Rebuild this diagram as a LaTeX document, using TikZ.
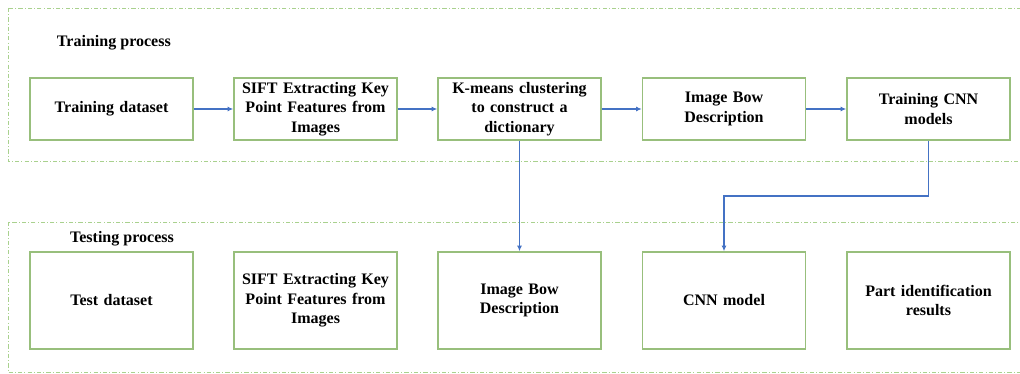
\documentclass[tikz,border=0pt]{standalone}
\usepackage{fontspec}
\setmainfont{Liberation Serif}
\usetikzlibrary{arrows.meta}
\definecolor{Leaf}{HTML}{98BF7C}
\definecolor{Frame}{HTML}{A9D18E}
\definecolor{Arrow}{HTML}{4472C4}

\begin{document}
\begin{tikzpicture}[x=0.025cm,y=-0.025cm,font=\bfseries\fontsize{11.4}{14}\selectfont,>={Latex[length=4pt,width=3.5pt]},box/.style={draw=Leaf,line width=1pt,align=center,text width=3.8cm,minimum width=4.075cm,inner sep=0pt},train/.style={box,minimum height=1.55cm},test/.style={box,minimum height=2.425cm},flow/.style={->,line width=0.8pt,draw=Arrow},frame/.style={draw=Frame,line width=0.6pt,dash pattern=on 3pt off 1.5pt on 0.7pt off 1.5pt}]
 \clip (0,0) rectangle (1020,374);
 % dashed process frames
 \draw[frame] (8,8) rectangle (1040,161);
 \draw[frame] (8,222) rectangle (1040,372);
 \node[anchor=west] (trainlabel) at (52,43) {Training process};
 \node (testlabel) at (122,239) {Testing process};
 % training row
 \node[train] (tdata) at (111.5,109) {Training dataset};
 \node[train] (tsift) at (315.5,109) {SIFT Extracting Key\\Point Features from\\Images};
 \node[train] (kmeans) at (519.5,109) {K-means clustering\\to construct a\\dictionary};
 \node[train] (tbow) at (724,109) {Image Bow\\Description};
 \node[train] (tcnn) at (928.5,109) {Training CNN\\models};
 % testing row
 \node[test] (sdata) at (111.5,300.5) {Test dataset};
 \node[test] (ssift) at (315.5,300.5) {SIFT Extracting Key\\Point Features from\\Images};
 \node[test] (sbow) at (519.5,300.5) {Image Bow\\Description};
 \node[test] (scnn) at (724,300.5) {CNN model};
 \node[test] (result) at (928.5,300.5) {Part identification\\results};
 \coordinate (bend) at (724,196);
 \draw[flow] (tdata)--(tsift); \draw[flow] (tsift)--(kmeans);
 \draw[flow] (kmeans)--(tbow); \draw[flow] (tbow)--(tcnn);
 \draw[flow] (kmeans)--(sbow);
 \draw[flow] (tcnn.south) |- (bend) -- (scnn.north);
\end{tikzpicture}
\end{document}
